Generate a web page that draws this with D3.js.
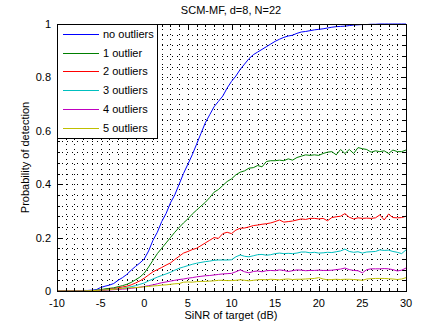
<!DOCTYPE html>
<html>
<head>
<meta charset="utf-8">
<script src="https://cdn.jsdelivr.net/npm/d3@7"></script>
<style>
  body { margin: 0; background: #fff; }
  text { font-family: "Liberation Sans", Arial, sans-serif; font-size: 11px; fill: #000; }
</style>
</head>
<body>
<svg id="chart" width="447" height="324"></svg>
<script>
// SINR axis, -10..30 dB in 0.5 dB steps
var sinr = d3.range(-10, 30.001, 0.5);

var noOutliers = [0,0,0,0,0.001,0.001,0.002,0.002,0.003,0.005,0.013,0.018,0.022,0.028,0.04,0.05,0.062,0.078,0.092,0.105,
  0.12,0.15,0.19,0.22,0.26,0.29,0.33,0.36,0.40,0.44,0.475,0.51,0.55,0.59,0.63,0.66,0.69,0.71,0.73,0.76,
  0.785,0.805,0.83,0.85,0.87,0.885,0.895,0.905,0.915,0.925,0.935,0.943,0.95,0.955,0.958,0.965,0.97,0.972,0.975,0.978,
  0.98,0.982,0.985,0.988,0.99,0.991,0.992,0.994,0.996,0.997,0.998,0.998,0.999,0.999,1,1,1,1,1,1,1];
var oneOutlier = [0,0,0,0,0,0,0,0,0.001,0.003,0.005,0.008,0.01,0.012,0.016,0.02,0.025,0.032,0.042,0.052,
  0.067,0.09,0.115,0.14,0.16,0.18,0.2,0.22,0.238,0.255,0.27,0.288,0.303,0.318,0.332,0.35,0.37,0.38,0.395,0.41,
  0.42,0.435,0.445,0.45,0.46,0.462,0.47,0.465,0.485,0.488,0.488,0.49,0.488,0.495,0.49,0.5,0.505,0.51,0.508,0.51,
  0.508,0.515,0.52,0.522,0.51,0.53,0.515,0.53,0.515,0.537,0.533,0.53,0.52,0.525,0.522,0.525,0.515,0.528,0.522,0.522,0.528];
var twoOutliers = [0,0,0,0,0,0,0,0,0.001,0.002,0.003,0.005,0.007,0.009,0.012,0.015,0.018,0.023,0.03,0.038,
  0.048,0.06,0.072,0.08,0.088,0.097,0.105,0.118,0.13,0.142,0.148,0.155,0.16,0.17,0.18,0.19,0.2,0.197,0.215,0.22,
  0.215,0.228,0.235,0.236,0.24,0.245,0.247,0.25,0.252,0.255,0.26,0.266,0.258,0.26,0.262,0.266,0.27,0.268,0.272,0.272,
  0.27,0.272,0.263,0.275,0.278,0.28,0.29,0.276,0.27,0.274,0.272,0.273,0.272,0.274,0.285,0.266,0.288,0.275,0.274,0.275,0.28];
var threeOutliers = [0,0,0,0,0,0,0,0.001,0.001,0.002,0.003,0.004,0.005,0.007,0.008,0.01,0.013,0.016,0.02,0.025,
  0.03,0.038,0.045,0.052,0.058,0.064,0.07,0.078,0.085,0.09,0.095,0.1,0.104,0.107,0.11,0.112,0.115,0.116,0.116,0.116,
  0.117,0.128,0.135,0.13,0.128,0.132,0.136,0.137,0.134,0.136,0.14,0.142,0.14,0.141,0.14,0.142,0.146,0.146,0.143,0.145,
  0.142,0.143,0.145,0.144,0.147,0.15,0.157,0.148,0.145,0.147,0.142,0.146,0.147,0.148,0.154,0.152,0.153,0.148,0.145,0.14,0.154];
var fourOutliers = [0,0,0,0,0,0,0,0,0.001,0.001,0.002,0.003,0.004,0.005,0.006,0.007,0.008,0.01,0.012,0.014,
  0.017,0.02,0.023,0.027,0.031,0.034,0.037,0.04,0.043,0.045,0.048,0.05,0.053,0.055,0.057,0.058,0.06,0.062,0.064,0.065,
  0.066,0.072,0.079,0.072,0.068,0.073,0.075,0.072,0.076,0.077,0.076,0.079,0.077,0.073,0.076,0.079,0.078,0.076,0.077,0.077,
  0.078,0.077,0.077,0.078,0.08,0.082,0.086,0.08,0.077,0.076,0.068,0.08,0.083,0.083,0.083,0.084,0.083,0.08,0.075,0.078,0.086];
var fiveOutliers = [0,0,0,0,0,0,0,0.001,0.001,0.002,0.003,0.004,0.005,0.006,0.008,0.01,0.011,0.012,0.013,0.014,
  0.016,0.017,0.019,0.02,0.022,0.023,0.025,0.027,0.028,0.033,0.034,0.033,0.035,0.036,0.036,0.037,0.038,0.04,0.04,0.039,
  0.039,0.04,0.042,0.04,0.038,0.04,0.042,0.043,0.042,0.044,0.043,0.042,0.044,0.045,0.043,0.044,0.044,0.045,0.046,0.047,
  0.05,0.045,0.042,0.043,0.044,0.043,0.044,0.044,0.043,0.042,0.04,0.045,0.046,0.047,0.047,0.047,0.046,0.045,0.043,0.045,0.05];

var seriesNames = ["no outliers", "1 outlier", "2 outliers", "3 outliers", "4 outliers", "5 outliers"];
var seriesColors = ["#0000ff", "#007f00", "#ff0000", "#00bfbf", "#bf00bf", "#bfbf00"];
var seriesValues = [noOutliers, oneOutlier, twoOutliers, threeOutliers, fourOutliers, fiveOutliers];

var xTicks = [-10, -5, 0, 5, 10, 15, 20, 25, 30];
var yTicks = [0, 0.2, 0.4, 0.6, 0.8, 1];

var svg = d3.select("#chart");
var plotL = 57, plotR = 406, plotT = 24, plotB = 291;

var x = d3.scaleLinear().domain([-10, 30]).range([plotL, plotR]);
var y = d3.scaleLinear().domain([0, 1]).range([plotB, plotT]);

// dotted grid (1 dB / 0.04 spacing)
var grid = svg.append("g").attr("shape-rendering", "crispEdges");
grid.selectAll(".gx").data(d3.range(-9, 30, 1)).enter().append("line")
    .attr("x1", d => Math.round(x(d)) + 0.5).attr("x2", d => Math.round(x(d)) + 0.5)
    .attr("y1", plotT).attr("y2", plotB)
    .attr("stroke", "#000").attr("stroke-dasharray", "1,4");
grid.selectAll(".gy").data(d3.range(1, 25, 1)).enter().append("line")
    .attr("y1", d => Math.round(y(d * 0.04)) + 0.5).attr("y2", d => Math.round(y(d * 0.04)) + 0.5)
    .attr("x1", plotL).attr("x2", plotR)
    .attr("stroke", "#000").attr("stroke-dasharray", "1,4");

// curves
var line = d3.line().x((d, i) => x(sinr[i])).y(d => y(d));
seriesValues.forEach(function(vals, k) {
    svg.append("path")
        .datum(vals)
        .attr("d", line)
        .attr("fill", "none")
        .attr("stroke", seriesColors[k])
        .attr("stroke-width", 1);
});

// axes box + ticks
var axes = svg.append("g").attr("shape-rendering", "crispEdges");
axes.append("rect").attr("x", plotL + 0.5).attr("y", plotT + 0.5)
    .attr("width", plotR - plotL).attr("height", plotB - plotT)
    .attr("fill", "none").attr("stroke", "#000");

var minorX = d3.range(-10, 30.001, 1), minorY = d3.range(0, 25.001, 1).map(d => d * 0.04);
function tickLen(isMajor) { return isMajor ? 5 : 3; }
minorX.forEach(function(v) {
    var big = v % 5 === 0, px = Math.round(x(v)) + 0.5;
    axes.append("line").attr("x1", px).attr("x2", px).attr("y1", plotB).attr("y2", plotB - tickLen(big)).attr("stroke", "#000");
    axes.append("line").attr("x1", px).attr("x2", px).attr("y1", plotT).attr("y2", plotT + tickLen(big)).attr("stroke", "#000");
});
minorY.forEach(function(v, i) {
    var big = i % 5 === 0, py = Math.round(y(v)) + 0.5;
    axes.append("line").attr("y1", py).attr("y2", py).attr("x1", plotL).attr("x2", plotL + tickLen(big)).attr("stroke", "#000");
    axes.append("line").attr("y1", py).attr("y2", py).attr("x1", plotR).attr("x2", plotR - tickLen(big)).attr("stroke", "#000");
});

// tick labels
svg.selectAll(".xl").data(xTicks).enter().append("text")
    .attr("x", d => x(d)).attr("y", 307).attr("text-anchor", "middle").text(d => d);
svg.selectAll(".yl").data(yTicks).enter().append("text")
    .attr("x", 51).attr("y", d => y(d) + 4).attr("text-anchor", "end").text(d => d);

// titles
svg.append("text").attr("x", 231).attr("y", 14).attr("text-anchor", "middle").text("SCM-MF, d=8, N=22");
svg.append("text").attr("x", 231).attr("y", 319).attr("text-anchor", "middle").text("SiNR of target (dB)");
svg.append("text").attr("transform", "translate(29," + ((plotT + plotB) / 2) + ") rotate(-90)")
    .attr("text-anchor", "middle").text("Probability of detection");

// legend
var leg = svg.append("g");
leg.append("rect").attr("x", plotL + 0.5).attr("y", plotT + 0.5).attr("width", 100).attr("height", 114)
    .attr("fill", "#fff").attr("stroke", "#000").attr("shape-rendering", "crispEdges");
seriesNames.forEach(function(name, k) {
    var ly = 34 + k * 18.7;
    leg.append("rect").attr("x", 63).attr("y", Math.round(ly)).attr("width", 36).attr("height", 1)
        .style("fill", seriesColors[k]);
    leg.append("text").attr("x", 103).attr("y", ly + 4).text(name);
});
</script>
</body>
</html>
